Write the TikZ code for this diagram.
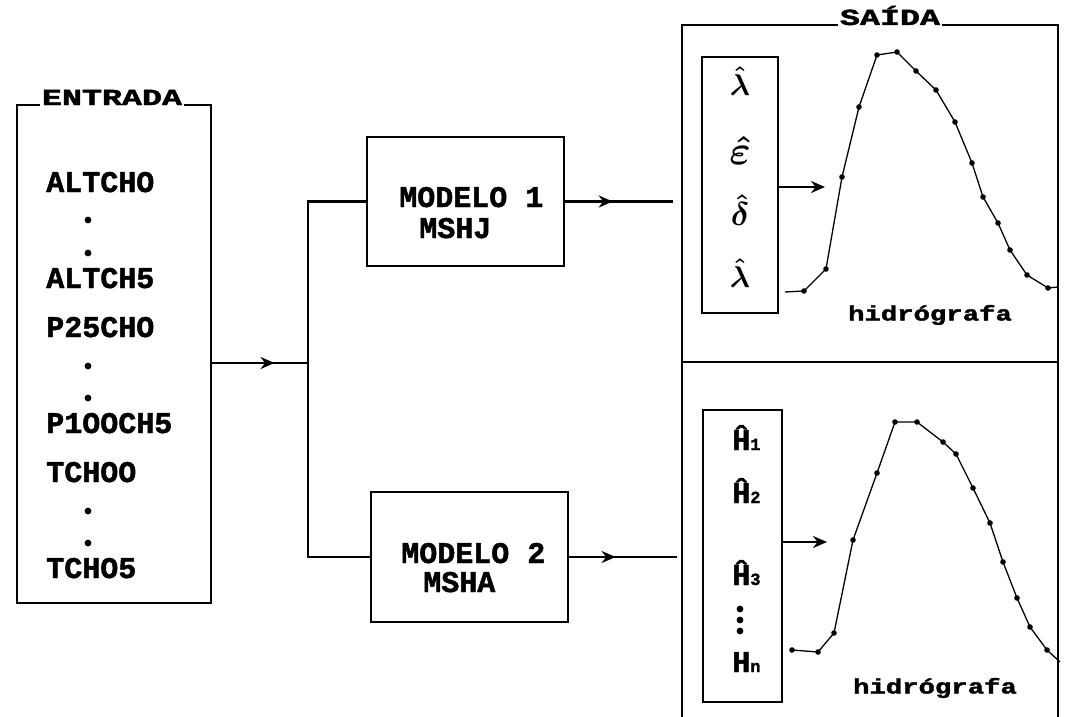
\RequirePackage{fix-cm}
\documentclass[tikz,border=0pt]{standalone}
\usepackage{fontspec}
\setmonofont{Liberation Mono}[BoldFeatures={FakeBold=1.6}]
\usepackage{graphicx}
\usepackage{tikz}
\usetikzlibrary{arrows.meta,decorations.markings}

\newcommand{\subind}[1]{{\fontsize{17}{17}\selectfont #1}}
\tikzset{
  bloco/.style 2 args={draw,line width=2.6pt,minimum width=#1,minimum height=#2,inner sep=0pt},
  item/.style={font=\ttfamily\bfseries\fontsize{30}{30}\selectfont,inner sep=0pt},
  titulo/.style={font=\ttfamily\bfseries\fontsize{23}{23}\selectfont,inner sep=1.5pt,fill=white,anchor=base},
  grego/.style={font=\fontsize{30}{30}\selectfont\boldmath,inner sep=0pt},
  hidro/.style={font=\ttfamily\bfseries\fontsize{21}{21}\selectfont,inner sep=0pt},
  curva/.style={line width=1.3pt},
  seta/.style={postaction={decorate},decoration={markings,mark=at position #1 with {\arrow{Stealth[length=14pt,width=12pt]}}}}
}

\begin{document}
\begin{tikzpicture}[x=1pt,y=-1pt,>={Stealth[length=14pt,width=12pt]},line width=2.6pt]
    \useasboundingbox (0,0) rectangle (1066,717);
    \node[bloco={194pt}{498pt}] (entrada) at (114,354) {};
    \node[bloco={197pt}{129pt}] (m1) at (465.5,201.5) {};
    \node[bloco={197pt}{130pt}] (m2) at (469.5,557) {};
    \node[bloco={76pt}{256pt}] (par) at (740,185) {};
    \node[bloco={79pt}{292pt}] (hid) at (742.5,556) {};
    \draw (682,717) -- (682,25) -- (1058,25) -- (1058,717);
    \draw (682,362) -- (1058,362);
    \node[titulo] (tent) at (112,105) {\scalebox{1.45}[1]{ENTRADA}};
    \node[titulo] (tsai) at (890,25) {\scalebox{1.45}[1]{SAÍDA}};
    \foreach \t/\y in {ALTCHO/192,ALTCH5/288,P25CHO/337,P1OOCH5/433,TCHOO/482,TCHO5/578}
        \node[item,anchor=base west] (e\y) at (45,\y) {\t};
    \foreach \y in {220,253,366,398,511,543}
        \fill (88,\y) circle (3.4);
    \node[item,anchor=base west] (t1a) at (398,207) {MODELO 1};
    \node[item,anchor=base west] (t1b) at (418,238) {MSHJ};
    \node[item,anchor=base west] (t2a) at (400,563) {MODELO 2};
    \node[item,anchor=base west] (t2b) at (422,592) {MSHA};
    \coordinate (ramo) at (308,363);
    \draw[seta=0.65] (entrada.east |- ramo) -- (ramo);
    \draw (m1.west) -| (ramo) |- (m2.west);
    \coordinate (s1) at (673,201.5);
    \coordinate (s2) at (677,557);
    \draw[seta=0.44] (m1.east) -- (s1);
    \draw[seta=0.43] (m2.east) -- (s2);
    \coordinate (c1) at (825,187);
    \coordinate (c2) at (827,542);
    \draw[->] (par.east |- c1) -- (c1);
    \draw[->] (hid.east |- c2) -- (c2);
    \node[grego] (g1) at (740,81) {$\hat{\lambda}$};
    \node[grego] (g2) at (740,150) {\scalebox{1.35}{$\hat{\varepsilon}$}};
    \node[grego] (g3) at (740,210) {\scalebox{1.1}{$\hat{\delta}$}};
    \node[grego] (g4) at (740,273) {$\hat{\lambda}$};
    \node[item,anchor=base west] (h1) at (731,450) {\^{H}\subind{1}};
    \node[item,anchor=base west] (h2) at (731,503) {\^{H}\subind{2}};
    \node[item,anchor=base west] (h3) at (731,585) {\^{H}\subind{3}};
    \node[item,anchor=base west] (hn) at (731,672) {H\subind{n}};
    \foreach \y in {609,620,631}
        \fill (740,\y) circle (3.4);
    \draw[curva] plot coordinates {(785,292) (804,291) (826,269) (842,177) (859,107) (877,55) (897,52) (916,71) (936,90) (955,122) (972,163) (983,197) (998,223) (1010,250) (1027,275) (1048,288) (1058,287)};
    \foreach \p in {(804,291),(826,269),(842,177),(859,107),(877,55),(897,52),(916,71),(936,90),(955,122),(972,163),(983,197),(998,223),(1010,250),(1027,275),(1048,288)}
        \fill \p circle (2.8);
    \draw[curva] plot coordinates {(792,650) (818,652) (834,633) (853,540) (877,473) (895,422) (917,422) (943,442) (956,454) (973,488) (990,523) (1003,562) (1017,598) (1030,627) (1047,650) (1060,662)};
    \foreach \p in {(792,650),(818,652),(834,633),(853,540),(877,473),(895,422),(917,422),(943,442),(956,454),(973,488),(990,523),(1003,562),(1017,598),(1030,627),(1047,650)}
        \fill \p circle (2.8);
    \node[hidro] (r1) at (930,315) {\scalebox{1.3}[1]{hidrógrafa}};
    \node[hidro] (r2) at (935,688) {\scalebox{1.3}[1]{hidrógrafa}};
\end{tikzpicture}
\end{document}
